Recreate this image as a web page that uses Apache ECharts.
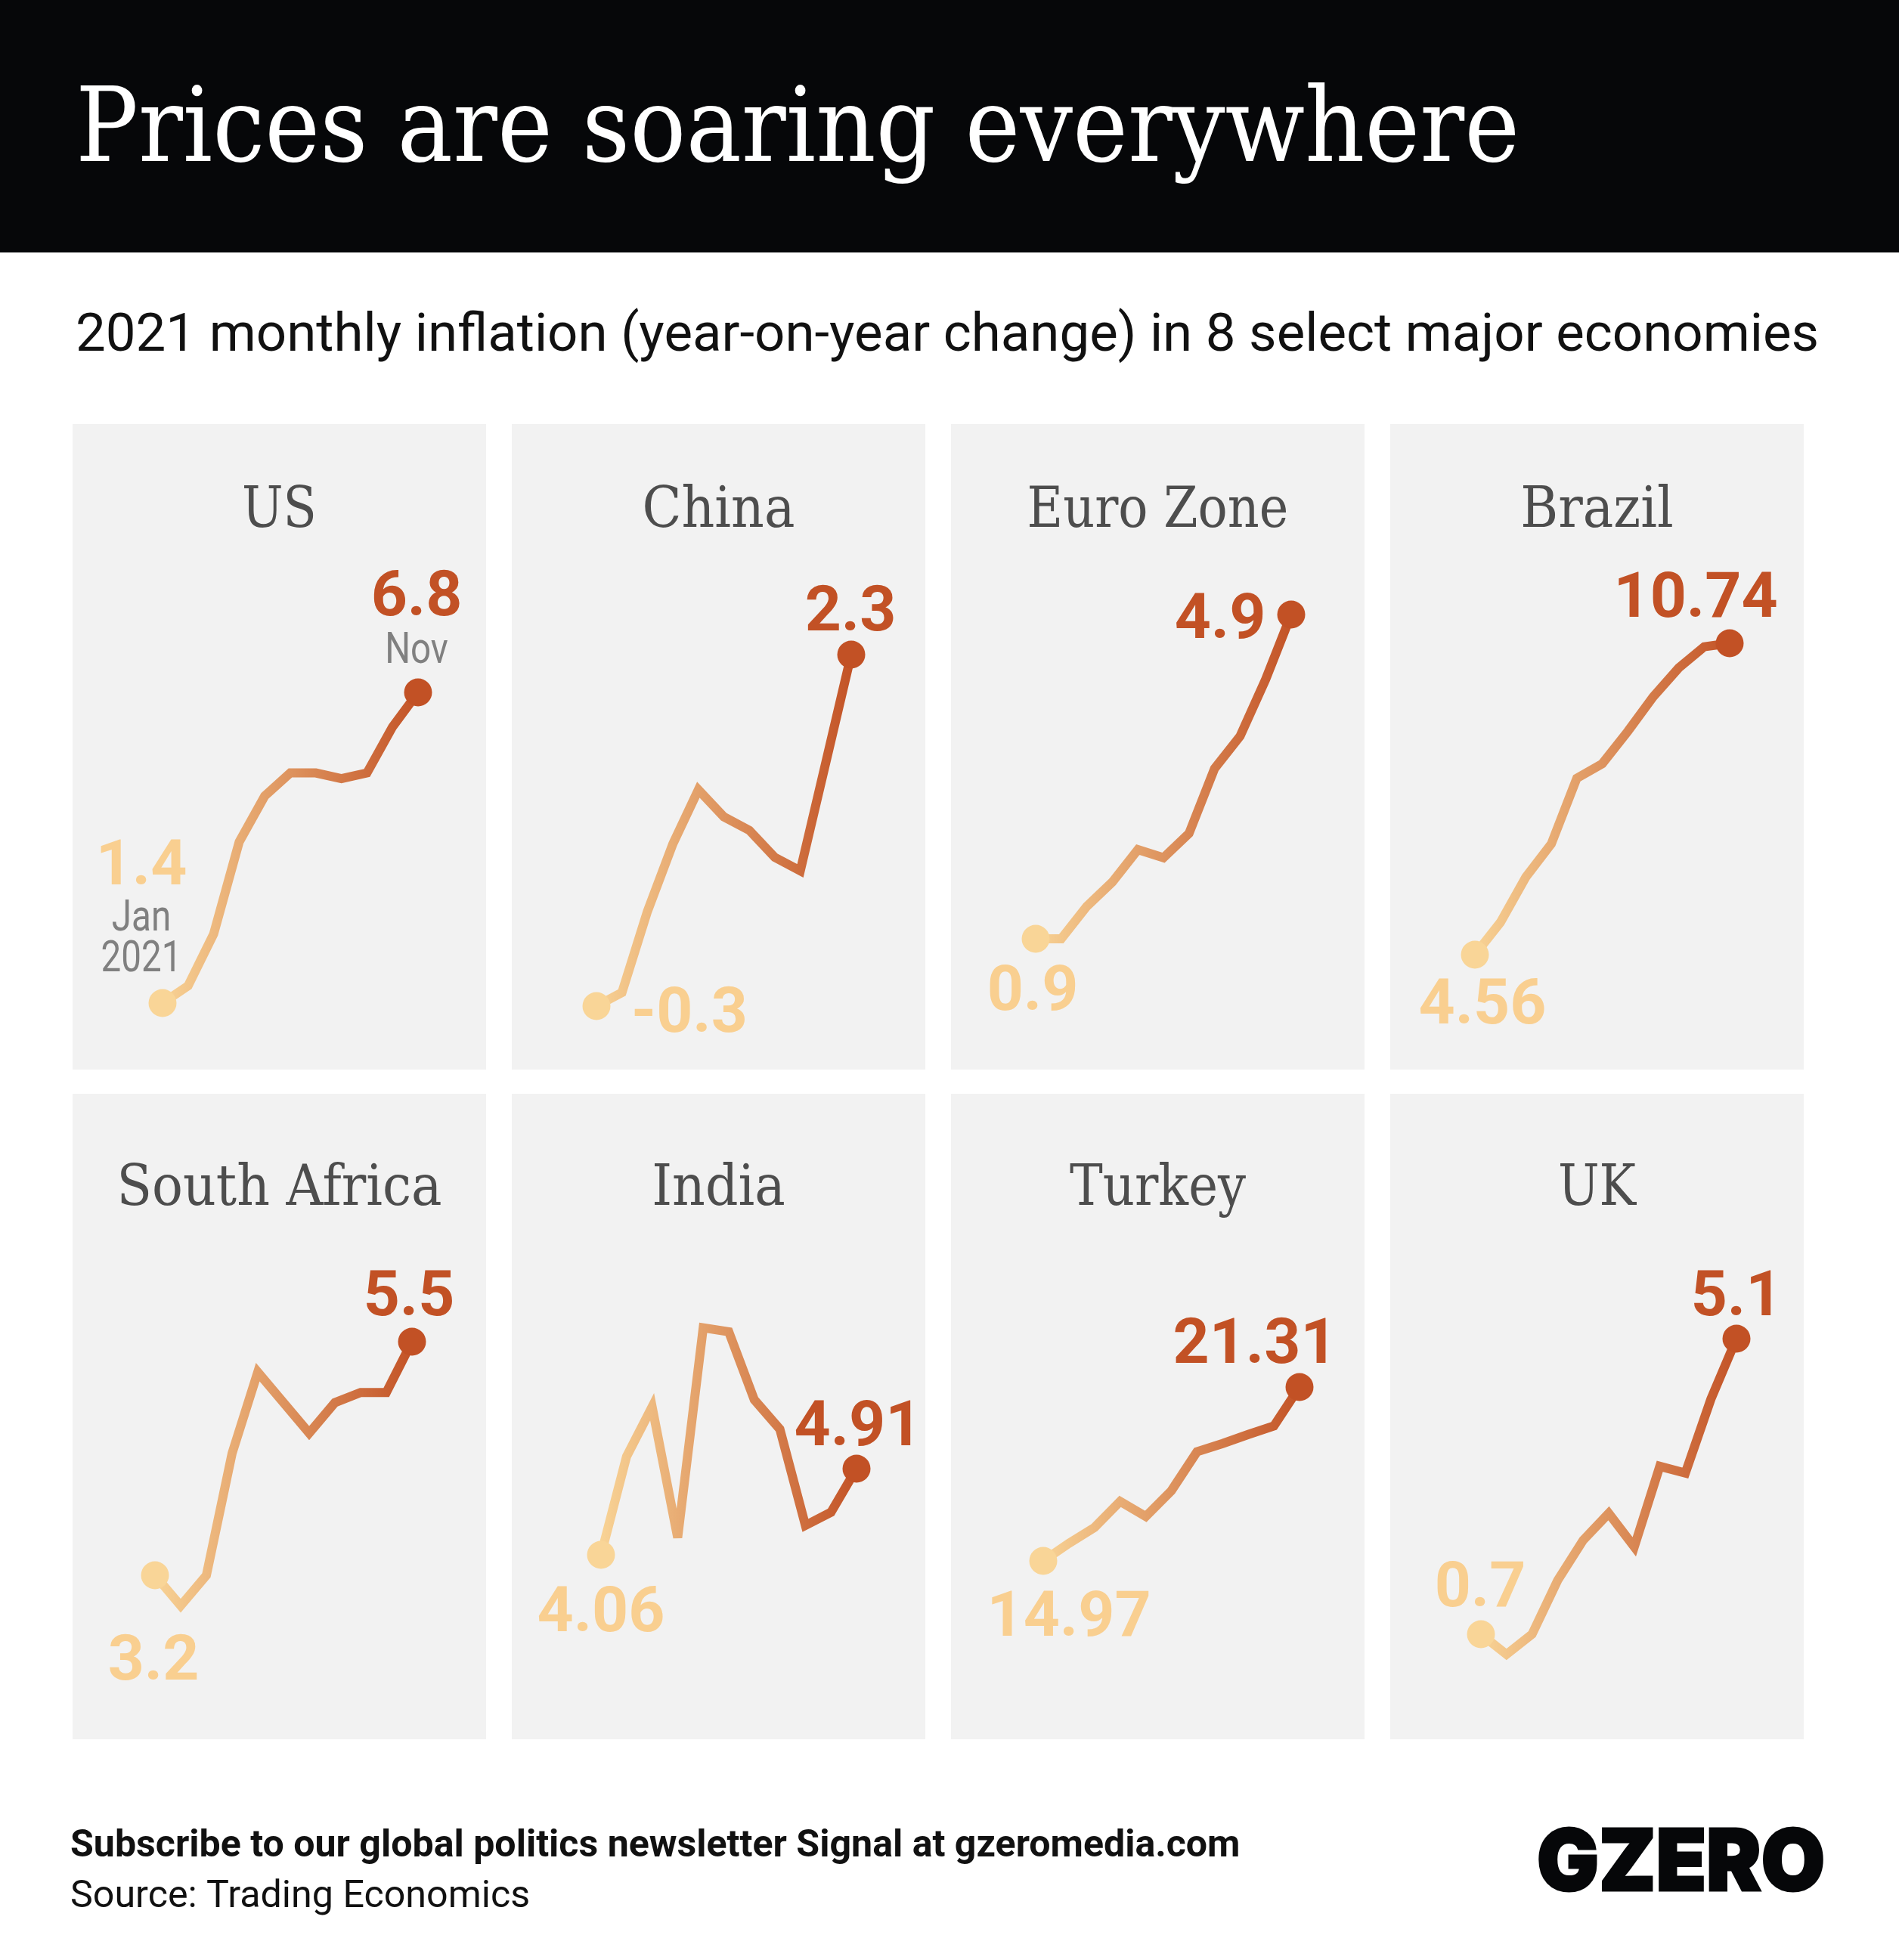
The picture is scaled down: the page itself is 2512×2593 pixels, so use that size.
<!DOCTYPE html>
<html><head><meta charset="utf-8">
<style>html,body{margin:0;padding:0;background:#fff}#c{width:2512px;height:2593px}</style>
<script src="https://cdn.jsdelivr.net/npm/echarts@6/dist/echarts.min.js"></script>
</head><body><div id="c"></div>
<script>
const months = ['Jan','Feb','Mar','Apr','May','Jun','Jul','Aug','Sep','Oct','Nov'];
const countries = ['US','China','Euro Zone','Brazil','South Africa','India','Turkey','UK'];
const usValues = [1.4,1.7,2.6,4.2,5.0,5.4,5.4,5.3,5.4,6.2,6.8];
const chinaValues = [-0.3,-0.2,0.4,0.9,1.3,1.1,1.0,0.8,0.7,1.5,2.3];
const euroValues = [0.9,0.9,1.3,1.6,2.0,1.9,2.2,3.0,3.4,4.1,4.9];
const brazilValues = [4.56,5.2,6.1,6.76,8.06,8.35,8.99,9.68,10.25,10.67,10.74];
const southAfricaValues = [3.2,2.9,3.2,4.4,5.2,4.9,4.6,4.9,5.0,5.0,5.5];
const indiaValues = [4.06,5.03,5.52,4.23,6.30,6.26,5.59,5.30,4.35,4.48,4.91];
const turkeyValues = [14.97,15.61,16.19,17.14,16.59,17.53,18.95,19.25,19.58,19.89,21.31];
const ukValues = [0.7,0.4,0.7,1.5,2.1,2.5,2.0,3.2,3.1,4.2,5.1];
const allValues = [usValues,chinaValues,euroValues,brazilValues,southAfricaValues,indiaValues,turkeyValues,ukValues];
const firstLabels = ['1.4','-0.3','0.9','4.56','3.2','4.06','14.97','0.7'];
const lastLabels = ['6.8','2.3','4.9','10.74','5.5','4.91','21.31','5.1'];

const LIGHT='#F9D597', DARK='#C25125', LIGHT_TXT='#F9CF90';
const panelX=[96,677,1258,1839], panelW=547, rowTop=[561,1447], panelH=854;
// [firstX,firstY,lastX,lastY] of each line, [first label cx,cy,last label cx,cy]
const geom=[
 [215,1327,553,916],[789,1331,1126,866],[1370,1242,1708,813],[1951,1263,2288,851],
 [205,2084,545,1775],[795,2057,1133,1943],[1380,2065,1719,1835],[1959,2162,2297,1771]];
const lab=[
 [187,1149,551,793],[912,1344,1125,813],[1366,1315,1614,823],[1961,1333,2243,795],
 [203,2201,541,1719],[795,2137,1135,1891],[1414,2143,1660,1782],[1958,2104,2297,1719]];
const titleScale=[0.875,0.919,0.881,0.919,0.919,0.919,0.887,0.877];

const grids=[],xAxes=[],yAxes=[],series=[],graphics=[];
const txt=(s,x,y,font,fill,opt={})=>({type:'text',x,y,scaleX:opt.sx||1,scaleY:opt.sy||1,z:20,
  style:{text:s,x:0,y:0,font,fill,textAlign:opt.align||'left',textVerticalAlign:'middle',
    stroke:opt.stroke||null,lineWidth:opt.lw||0}});

graphics.push({type:'rect',shape:{x:0,y:0,width:2512,height:334},style:{fill:'#060709'},z:1});
const SERIF='"DejaVu Serif"';
graphics.push(txt('Prices are soaring everywhere',100,178,`136px ${SERIF}`,'#fff',{sx:0.906}));
graphics.push(txt('2021 monthly inflation (year-on-year change) in 8 select major economies',100,446,'70.8px Roboto','#111'));
graphics.push(txt('Subscribe to our global politics newsletter Signal at gzeromedia.com',93,2443,'bold 50.1px Roboto','#111'));
graphics.push(txt('Source: Trading Economics',93,2510,'50.2px Roboto','#111'));
graphics.push(txt('GZERO',2033,2467,'900 113px Inter','#060709',{sx:0.962,stroke:'#060709',lw:3}));

countries.forEach((name,i)=>{
  const col=i%4,row=i<4?0:1,px=panelX[col],py=rowTop[row],[x0,y0,x1,y1]=geom[i],vals=allValues[i],[lx0,ly0,lx1,ly1]=lab[i];
  graphics.push({type:'rect',shape:{x:px,y:py,width:panelW,height:panelH},style:{fill:'#F2F2F2'},z:1});
  graphics.push(txt(name,px+panelW/2,py+(row?128:117),`74px ${SERIF}`,'#4D4D4D',{align:'center',sx:titleScale[i]}));
  const k=(y0-y1)/(vals[10]-vals[0]);
  const bottom=py+panelH;
  grids.push({left:x0,width:x1-x0,top:py,height:panelH,show:false});
  xAxes.push({type:'category',gridIndex:i,data:months,boundaryGap:false,show:false});
  yAxes.push({type:'value',gridIndex:i,show:false,scale:true,
    min:vals[0]-(bottom-y0)/k,max:vals[10]+(y1-py)/k});
  const pt=(v,color,text,dx,dy)=>({value:v,symbol:'circle',symbolSize:37,itemStyle:{color},
     label:{show:true,position:'inside',formatter:text,offset:[dx,dy],color:color===LIGHT?LIGHT_TXT:DARK,
       fontFamily:'Roboto',fontWeight:'bold',fontSize:84,align:'center',verticalAlign:'middle'}});
  series.push({type:'line',xAxisIndex:i,yAxisIndex:i,name,symbol:'none',showSymbol:true,showAllSymbol:true,
    animation:false,silent:true,clip:false,z:5,
    lineStyle:{width:12,join:'miter',miterLimit:5,cap:'butt',
      color:new echarts.graphic.LinearGradient(0,0,1,0,[{offset:0,color:LIGHT},{offset:1,color:DARK}])},
    data:vals.map((v,j)=> j===0?pt(v,LIGHT,firstLabels[i],lx0-x0,ly0-y0)
                        : j===10?pt(v,DARK,lastLabels[i],lx1-x1,ly1-y1)
                        : {value:v,symbol:'none'})});
});
const NOTE='58px Roboto', NC='#808080';
graphics.push(txt('Nov',551,862,NOTE,NC,{align:'center',sx:0.82}));
graphics.push(txt('Jan',187,1216,NOTE,NC,{align:'center',sx:0.82}));
graphics.push(txt('2021',187,1270,NOTE,NC,{align:'center',sx:0.82}));

const chart=echarts.init(document.getElementById('c'),null,{renderer:'canvas',devicePixelRatio:1});
chart.setOption({animation:false,backgroundColor:'#fff',grid:grids,xAxis:xAxes,yAxis:yAxes,series,graphic:{elements:graphics}});
</script></body></html>
